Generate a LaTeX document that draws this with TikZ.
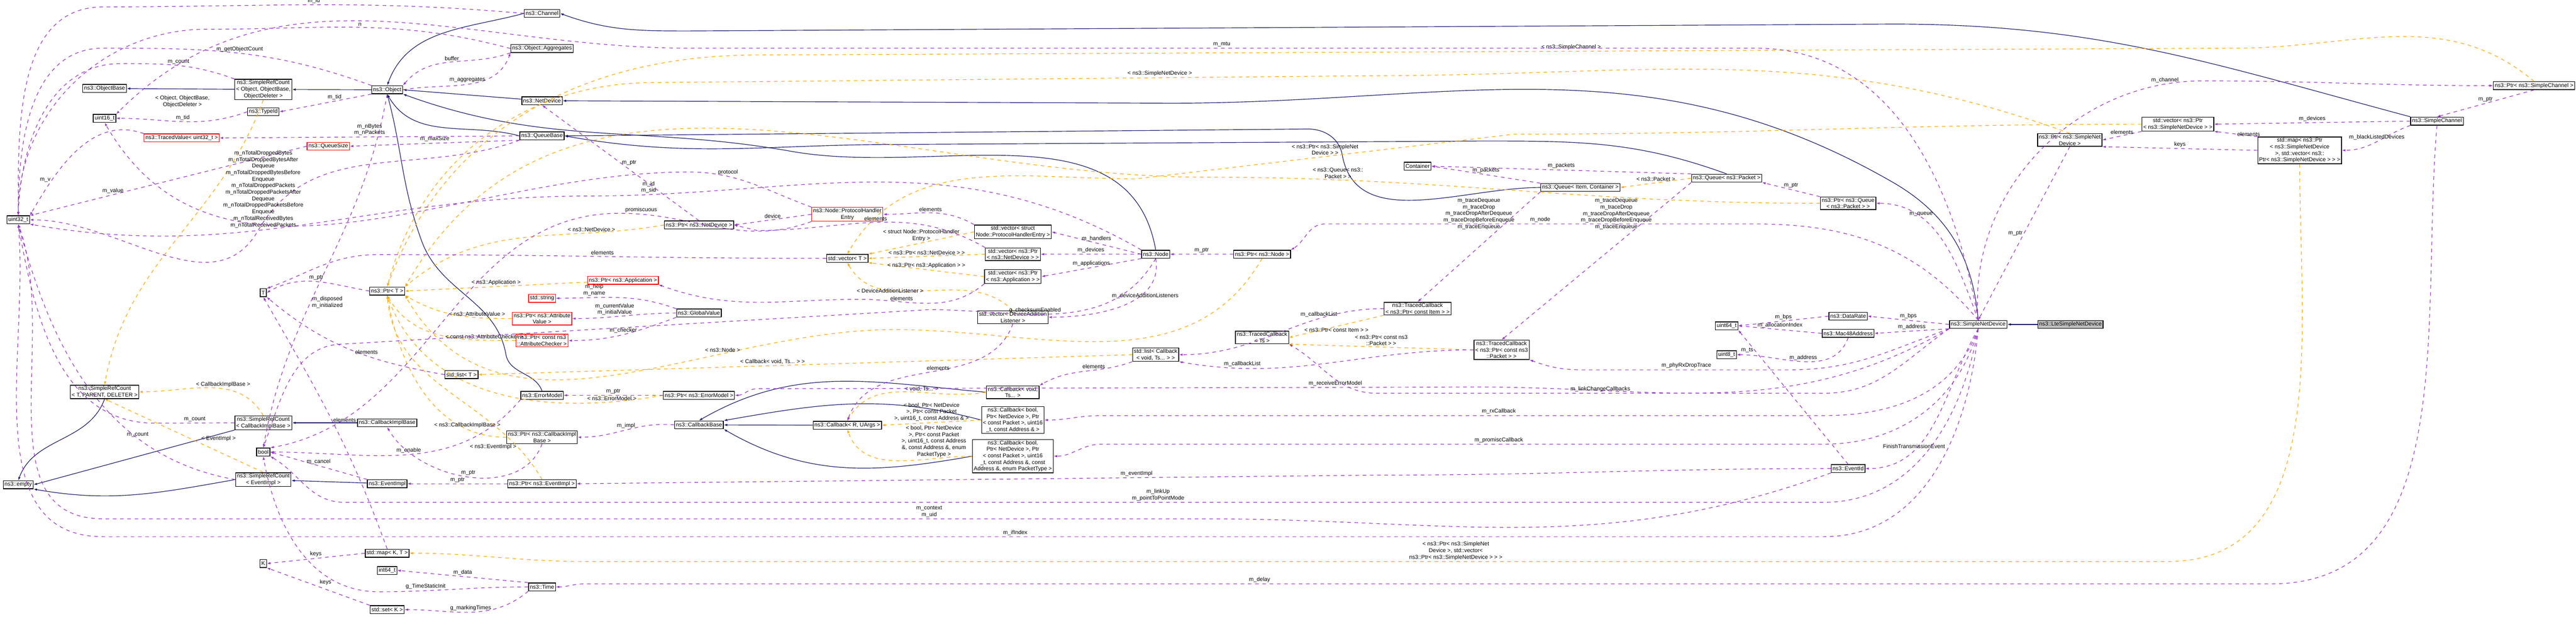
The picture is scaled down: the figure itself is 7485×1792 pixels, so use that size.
\documentclass[tikz,border=0pt]{standalone}
\usepackage{fontspec}
\setmainfont{Liberation Sans}
\usetikzlibrary{arrows.meta}
\definecolor{inhc}{HTML}{191970}
\definecolor{memc}{HTML}{9A32CD}
\definecolor{tplc}{HTML}{FFA500}
\tikzset{
 box/.style={draw=black,line width=0.6pt,fill=white,font=\fontsize{4.6}{5.4}\selectfont,inner xsep=0.04cm,inner ysep=0.03cm,minimum height=0.23cm,align=center},
 redbox/.style={box,draw=red},
 graybox/.style={box,fill=black!25},
 lbl/.style={font=\fontsize{4.6}{5.4}\selectfont,inner sep=1pt,align=center,fill=none},
 inh/.style={draw=inhc,line width=0.5pt,-{Latex[length=0.1cm,width=0.07cm]}},
 mem/.style={draw=memc,line width=0.5pt,dashed,-{Latex[length=0.1cm,width=0.07cm]}},
 tpl/.style={draw=tplc,line width=0.5pt,dashed,-{Latex[length=0.1cm,width=0.07cm]}},
}
\begin{document}
\begin{tikzpicture}[x=0.01cm,y=-0.01cm]
\useasboundingbox (0,0) rectangle (7485,1792);
% nodes
\node[box] (chan) at (1575,39) {ns3::Channel};
\node[box] (aggr) at (1575,141) {ns3::Object::Aggregates};
\node[box] (objb) at (304,257) {ns3::ObjectBase};
\node[box] (srco) at (765,260) {ns3::SimpleRefCount\\< Object, ObjectBase,\\ ObjectDeleter >};
\node[box] (obj) at (1125,261) {ns3::Object};
\node[box] (tid) at (765,325) {ns3::TypeId};
\node[box] (u16) at (304,344) {uint16\_t};
\node[box] (ndev) at (1575,293) {ns3::NetDevice};
\node[box] (qb) at (1575,395) {ns3::QueueBase};
\node[redbox] (tv) at (528,401) {ns3::TracedValue< uint32\_t >};
\node[redbox] (qs) at (954,425) {ns3::QueueSize};
\node[box] (u32) at (53,639) {uint32\_t};
\node[box] (T) at (765,851) {T};
\node[box] (ptrT) at (1125,846) {ns3::Ptr< T >};
\node[redbox] (ptrapp) at (1810,815) {ns3::Ptr< ns3::Application >};
\node[redbox] (str) at (1575,867) {std::string};
\node[redbox] (ptrav) at (1575,926) {ns3::Ptr< ns3::Attribute\\Value >};
\node[redbox] (ptrac) at (1575,990) {ns3::Ptr< const ns3\\::AttributeChecker >};
\node[box] (lstT) at (1341,1089) {std::list< T >};
\node[box] (em) at (1575,1149) {ns3::ErrorModel};
\node[box] (srcg) at (304,1139) {ns3::SimpleRefCount\\< T, PARENT, DELETER >};
\node[box] (srccb) at (765,1229) {ns3::SimpleRefCount\\< CallbackImplBase >};
\node[box] (cib) at (1125,1229) {ns3::CallbackImplBase};
\node[box] (ptrcib) at (1575,1271) {ns3::Ptr< ns3::CallbackImpl\\Base >};
\node[box] (bool) at (765,1314) {bool};
\node[box] (empty) at (53,1409) {ns3::empty};
\node[box] (srcev) at (765,1394) {ns3::SimpleRefCount\\< EventImpl >};
\node[box] (evi) at (1125,1406) {ns3::EventImpl};
\node[box] (ptrev) at (1575,1406) {ns3::Ptr< ns3::EventImpl >};
\node[box] (mapKT) at (1125,1608) {std::map< K, T >};
\node[box] (K) at (765,1638) {K};
\node[box] (i64) at (1125,1658) {int64\_t};
\node[box] (time) at (1575,1706) {ns3::Time};
\node[box] (setK) at (1125,1772) {std::set< K >};
\node[redbox] (phe) at (2462,623) {ns3::Node::ProtocolHandler\\Entry};
\node[box] (ptrnd) at (2031,654) {ns3::Ptr< ns3::NetDevice >};
\node[box] (vphe) at (2943,674) {std::vector< struct\\ Node::ProtocolHandlerEntry >};
\node[box] (vecT) at (2462,751) {std::vector< T >};
\node[box] (vnd) at (2943,739) {std::vector< ns3::Ptr\\< ns3::NetDevice > >};
\node[box] (vapp) at (2943,804) {std::vector< ns3::Ptr\\< ns3::Application > >};
\node[box] (node) at (3358,739) {ns3::Node};
\node[box] (ptrnode) at (3667,739) {ns3::Ptr< ns3::Node >};
\node[box] (gv) at (2031,910) {ns3::GlobalValue};
\node[box] (vdal) at (2943,922) {std::vector< DeviceAddition\\Listener >};
\node[box] (lcb) at (3358,1031) {std::list< Callback\\< void, Ts... > >};
\node[box] (ptrem) at (2031,1149) {ns3::Ptr< ns3::ErrorModel >};
\node[box] (cbb) at (2031,1235) {ns3::CallbackBase};
\node[box] (cbr) at (2462,1236) {ns3::Callback< R, UArgs >};
\node[box] (cbv) at (2943,1140) {ns3::Callback< void,\\ Ts... >};
\node[box] (cb4) at (2943,1221) {ns3::Callback< bool,\\ Ptr< NetDevice >, Ptr\\< const Packet >, uint16\\\_t, const Address \& >};
\node[box] (cb6) at (2943,1326) {ns3::Callback< bool,\\ Ptr< NetDevice >, Ptr\\< const Packet >, uint16\\\_t, const Address \&, const\\ Address \&, enum PacketType >};
\node[box] (cont) at (4119,483) {Container};
\node[box] (qic) at (4592,545) {ns3::Queue< Item, Container >};
\node[box] (qp) at (5017,518) {ns3::Queue< ns3::Packet >};
\node[box] (ptrq) at (5370,591) {ns3::Ptr< ns3::Queue\\< ns3::Packet > >};
\node[box] (tci) at (4119,897) {ns3::TracedCallback\\< ns3::Ptr< const Item > >};
\node[box] (tcts) at (3667,981) {ns3::TracedCallback\\< Ts >};
\node[box] (tcp) at (4363,1017) {ns3::TracedCallback\\< ns3::Ptr< const ns3\\::Packet > >};
\node[box] (u64) at (5017,947) {uint64\_t};
\node[box] (dr) at (5370,919) {ns3::DataRate};
\node[box] (mac) at (5370,969) {ns3::Mac48Address};
\node[box] (u8) at (5017,1031) {uint8\_t};
\node[box] (evid) at (5370,1362) {ns3::EventId};
\node[box] (ptrsc) at (7363,249) {ns3::Ptr< ns3::SimpleChannel >};
\node[box] (sc) at (7081,352) {ns3::SimpleChannel};
\node[box] (vsnd) at (6328,361) {std::vector< ns3::Ptr\\< ns3::SimpleNetDevice > >};
\node[box] (ptrsnd) at (6014,407) {ns3::Ptr< ns3::SimpleNet\\Device >};
\node[box] (mapsnd) at (6682,437) {std::map< ns3::Ptr\\< ns3::SimpleNetDevice\\ >, std::vector< ns3::\\Ptr< ns3::SimpleNetDevice > > >};
\node[box] (snd) at (5748,943) {ns3::SimpleNetDevice};
\node[graybox] (lte) at (6016,943) {ns3::LteSimpleNetDevice};

% inheritance
\draw[inh] (srco) -- (objb);
\draw[inh] (obj) -- (srco);
\draw[inh] (chan.west) to[out=195,in=70] (obj.north);
\draw[inh] (ndev) -- (obj.east);
\draw[inh] (qb.west) to[out=165,in=-60] (obj.south);
\draw[inh] (node.north) to[out=100,in=-10] (2300,440) to[out=170,in=-20] (obj.south east);
\draw[inh] (em.north) to[out=110,in=-80] (1470,1030) to[out=100,in=-70] (1225,700) to[out=110,in=-75] (obj.south);
\draw[inh] (sc.north west) to[out=165,in=0] (5500,70) -- (2000,90) to[out=180,in=-20] (chan.east);
\draw[inh] (snd.north) to[out=95,in=-30] (5500,530) to[out=150,in=0] (3400,300) -- (ndev.east);
\draw[inh] (qic.west) to[out=180,in=-80] (3900,450) to[out=100,in=0] (3800,375) -- (qb.east);
\draw[inh] (qp.north) to[out=160,in=0] (4300,410) -- (2600,420) to[out=180,in=-10] (qb.east);
\draw[inh] (srcg.south) to[out=-110,in=70] (empty.north);
\draw[inh] (srccb.south west) -- (empty.east);
\draw[inh] (srcev.west) to[out=190,in=-10] (empty.south east);
\draw[inh] (cib) -- (srccb);
\draw[inh] (evi) -- (srcev);
\draw[inh] (cbv.west) to[out=175,in=30] (cbb.north);
\draw[inh] (cb4.west) to[out=165,in=10] (cbb.north east);
\draw[inh] (cb6.west) to[out=190,in=-30] (cbb.south east);
\draw[inh] (cbr) -- (cbb);
\draw[inh] (lte) -- (snd);

% templates
\draw[tpl] (srco.south) to[out=-110,in=80] (srcg.north);
\node[lbl] (srcolbl) at (530,295) {< Object, ObjectBase,\\ObjectDeleter >};
\draw[tpl] (srccb.north) to[out=120,in=0] node[lbl,pos=0.4,above] {< CallbackImplBase >} (srcg.east);
\draw[tpl] (srcev.north) -- node[lbl,pos=0.4,above right] {< EventImpl >} (srcg.south);
\draw[tpl] (ptrapp) -- node[lbl,pos=0.5,above] {< ns3::Application >} (ptrT.east);
\draw[tpl] (ptrav.west) to[out=180,in=-30] node[lbl,pos=0.3,above] {< ns3::AttributeValue >} (ptrT.south east);
\draw[tpl] (ptrac.west) to[out=180,in=-60] node[lbl,pos=0.2,above] {< const ns3::AttributeChecker >} (ptrT.south);
\draw[tpl] (ptrnd.west) to[out=190,in=40] node[lbl,pos=0.25,above] {< ns3::NetDevice >} (ptrT.north east);
\draw[tpl] (ptrem.west) to[out=190,in=-70] node[lbl,pos=0.15,above] {< ns3::ErrorModel >} (ptrT.south);
\draw[tpl] (ptrcib.west) to[out=180,in=-80] node[lbl,pos=0.2,above] {< ns3::CallbackImplBase >} (ptrT.south);
\draw[tpl] (ptrev.north) to[out=120,in=-85] node[lbl,pos=0.15,left] {< ns3::EventImpl >} (ptrT.south);
\draw[tpl] (ptrnode.south) to[out=-120,in=0] (2600,958) to[out=180,in=-60] node[lbl,pos=0.3,above] {< ns3::Node >} (ptrT.south east);
\draw[tpl] (ptrsc.north) to[out=140,in=0] (6500,140) -- node[lbl,pos=0.45,above] {< ns3::SimpleChannel >} (2200,160) to[out=180,in=70] (ptrT.north);
\draw[tpl] (ptrsnd.north) to[out=160,in=0] (4000,220) -- node[lbl,pos=0.3,above] {< ns3::SimpleNetDevice >} (1900,240) to[out=180,in=75] (ptrT.north);
\draw[tpl] (ptrq.west) to[out=180,in=0] node[lbl,pos=0.8,above] {< ns3::Queue< ns3::\\Packet > >} (3500,515) to[out=180,in=60] (ptrT.north east);
\draw[tpl] (lcb.west) -- node[lbl,pos=0.55,above] {< Callback< void, Ts... > >} (lstT.east);
\draw[tpl] (vphe.west) -- node[lbl,pos=0.5,above] {< struct Node::ProtocolHandler\\Entry >} (vecT.north east);
\draw[tpl] (vnd.west) -- node[lbl,pos=0.5,above] {< ns3::Ptr< ns3::NetDevice > >} (vecT.east);
\draw[tpl] (vapp.west) -- node[lbl,pos=0.5,above] {< ns3::Ptr< ns3::Application > >} (vecT.south east);
\draw[tpl] (vdal.north) to[out=135,in=-60] node[lbl,pos=0.5,left] {< DeviceAdditionListener >} (vecT.south);
\draw[tpl] (vsnd.west) to[out=180,in=0] (4400,390) -- node[lbl,pos=0.5,above] {< ns3::Ptr< ns3::SimpleNet\\Device > >} (3300,520) to[out=180,in=60] (vecT.north);
\draw[tpl] (mapsnd.south) to[out=-90,in=0] (6300,1632) -- node[lbl,pos=0.45,above] {< ns3::Ptr< ns3::SimpleNet\\Device >, std::vector<\\ ns3::Ptr< ns3::SimpleNetDevice > > >} (1700,1632) to[out=180,in=0] (mapKT.east);
\draw[tpl] (cbv.west) to[out=190,in=60] node[lbl,pos=0.4,above] {< void, Ts... >} (cbr.north);
\draw[tpl] (cb4.west) -- node[lbl,pos=0.5,above] {< bool, Ptr< NetDevice\\ >, Ptr< const Packet\\ >, uint16\_t, const Address \& >} (cbr.east);
\draw[tpl] (cb6.west) to[out=180,in=-70] node[lbl,pos=0.25,above] {< bool, Ptr< NetDevice\\ >, Ptr< const Packet\\ >, uint16\_t, const Address\\ \&, const Address \&, enum\\ PacketType >} (cbr.south);
\draw[tpl] (qp.west) -- node[lbl,pos=0.5,above] {< ns3::Packet >} (qic.east);
\draw[tpl] (tci.south west) -- node[lbl,pos=0.5,below] {< ns3::Ptr< const Item > >} (tcts.east);
\draw[tpl] (tcp.west) -- node[lbl,pos=0.5,above] {< ns3::Ptr< const ns3\\::Packet > >} (tcts.south east);

% members
\draw[mem] (chan.west) to[out=175,in=0] node[lbl,pos=0.5,above] {m\_id} (300,20) to[out=180,in=90] (u32.north);
\draw[mem] (aggr.west) to[out=165,in=0] node[lbl,pos=0.5,above] {n} (600,85) to[out=180,in=90] (u32.north);
\draw[mem] (obj.north west) to[out=160,in=0] node[lbl,pos=0.5,above] {m\_getObjectCount} (300,140) to[out=180,in=90] (u32.north);
\draw[mem] (srco.north west) to[out=160,in=0] node[lbl,pos=0.5,above] {m\_count} (350,185) to[out=180,in=88] (u32.north);
\draw[mem] (obj.south west) -- node[lbl,pos=0.4,above] {m\_tid} (tid.east);
\draw[mem] (obj.east) to[out=10,in=-110] node[lbl,pos=0.5,above] {m\_aggregates} (aggr.south west);
\draw[mem] (aggr.south west) to[out=200,in=50] node[lbl,pos=0.5,above] {buffer} (obj.north east);
\draw[mem] (tid.west) to[out=200,in=0] node[lbl,pos=0.5,above] {m\_tid} (u16.east);
\draw[mem] (tv.north west) to[out=160,in=60] node[lbl,pos=0.75,left] {m\_v} (u32.north east);
\draw[mem] (qb.west) -- node[lbl,pos=0.5,above] {m\_nBytes\\m\_nPackets} (tv.east);
\draw[mem] (qb.south west) -- node[lbl,pos=0.5,above] {m\_maxSize} (qs.east);
\draw[mem] (qs.west) -- node[lbl,pos=0.7,above] {m\_value} (u32.north east);
\draw[mem] (qb.south west) to[out=200,in=60] (750,670) to[out=240,in=0] (u32.east);
\node[lbl] (qblbl) at (765,550) {m\_nTotalDroppedBytes\\m\_nTotalDroppedBytesAfter\\Dequeue\\m\_nTotalDroppedBytesBefore\\Enqueue\\m\_nTotalDroppedPackets\\m\_nTotalDroppedPacketsAfter\\Dequeue\\m\_nTotalDroppedPacketsBefore\\Enqueue\\m\_nTotalReceivedBytes\\m\_nTotalReceivedPackets};
\draw[mem] (node.north west) to[out=150,in=0] node[lbl,pos=0.9,above] {m\_id\\m\_sid} (1700,570) to[out=180,in=-10] (u32.south east);
\draw[mem] (ptrT.west) to[out=170,in=30] node[lbl,pos=0.5,above] {m\_ptr} (T.east);
\draw[mem] (obj.south) to[out=-100,in=80] node[lbl,pos=0.6,right] {m\_disposed\\m\_initialized} (bool.north);
\draw[mem] (phe.west) -- node[lbl,pos=0.5,above] {device} (ptrnd.east);
\draw[mem] (phe.north west) to[out=160,in=0] node[lbl,pos=0.7,above] {protocol} (2000,500) to[out=180,in=-60] (u16.south);
\draw[mem] (phe.south west) to[out=200,in=0] node[lbl,pos=0.9,above] {promiscuous} (1800,620) to[out=180,in=10] (bool.north east);
\draw[mem] (vnd.north west) to[out=150,in=0] node[lbl,pos=0.5,above] {elements} (2200,670) -- (ptrnd.east);
\draw[mem] (ptrnd.north) -- node[lbl,pos=0.5,right] {m\_ptr} (ndev.south);
\draw[mem] (vphe.north west) to[out=150,in=0] node[lbl,pos=0.5,above] {elements} (phe.east);
\draw[mem] (node.west) -- node[lbl,pos=0.5,above] {m\_handlers} (vphe.east);
\draw[mem] (node.west) -- node[lbl,pos=0.5,above] {m\_devices} (vnd.east);
\draw[mem] (node.south west) -- node[lbl,pos=0.5,above] {m\_applications} (vapp.east);
\draw[mem] (vapp.south west) to[out=220,in=0] node[lbl,pos=0.7,above] {elements} (2500,870) to[out=180,in=-20] (ptrapp.south east);
\draw[mem] (node.south) to[out=-120,in=0] node[lbl,pos=0.6,above] {g\_checksumEnabled} (2700,900) -- (1000,1000) to[out=180,in=70] (bool.north);
\draw[mem] (node.south) to[out=-80,in=0] node[lbl,pos=0.3,below] {m\_deviceAdditionListeners} (vdal.east);
\draw[mem] (ptrnode.west) -- node[lbl,pos=0.5,above] {m\_ptr} (node.east);
\draw[mem] (gv.north west) to[out=160,in=0] node[lbl,pos=0.7,above] {m\_help\\m\_name} (str.east);
\draw[mem] (gv.west) to[out=180,in=0] node[lbl,pos=0.6,above] {m\_currentValue\\m\_initialValue} (ptrav.east);
\draw[mem] (gv.south west) to[out=200,in=0] node[lbl,pos=0.5,above] {m\_checker} (ptrac.east);
\draw[mem] (lstT.west) to[out=170,in=-40] node[lbl,pos=0.4,above] {elements} (T.south east);
\draw[mem] (mapKT.north) to[out=110,in=-60] node[lbl,pos=0.5,right] {elements} (T.south);
\draw[mem] (vecT.west) to[out=180,in=0] node[lbl,pos=0.5,above] {elements} (1100,740) to[out=180,in=20] (T.north east);
\draw[mem] (lcb.south west) to[out=200,in=30] node[lbl,pos=0.4,above] {elements} (cbv.north east);
\draw[mem] (vdal.south) to[out=-110,in=70] node[lbl,pos=0.4,left] {elements} (cbr.north);
\draw[mem] (ptrem.west) -- node[lbl,pos=0.5,above] {m\_ptr} (em.east);
\draw[mem] (em.south west) to[out=230,in=0] node[lbl,pos=0.5,above] {m\_enable} (bool.east);
\draw[mem] (cbb.west) to[out=175,in=0] node[lbl,pos=0.5,above] {m\_impl} (ptrcib.east);
\draw[mem] (ptrcib.south) to[out=-110,in=-60] node[lbl,pos=0.5,above] {m\_ptr} (cib.south);
\draw[mem] (evi.north west) -- node[lbl,pos=0.5,above] {m\_cancel} (bool.east);
\draw[mem] (ptrev.west) -- node[lbl,pos=0.5,above] {m\_ptr} (evi.east);
\draw[mem] (srccb.west) to[out=180,in=0] node[lbl,pos=0.5,above] {m\_count} (450,1230) to[out=180,in=-80] (u32.south);
\draw[mem] (srcev.west) to[out=170,in=-75] node[lbl,pos=0.3,above] {m\_count} (u32.south);
\draw[mem] (mapKT.west) -- node[lbl,pos=0.5,above] {keys} (K.east);
\draw[mem] (setK.north west) -- node[lbl,pos=0.5,above right] {keys} (K.south east);
\draw[mem] (time.north west) -- node[lbl,pos=0.5,above] {m\_data} (i64.east);
\draw[mem] (time.west) to[out=180,in=0] node[lbl,pos=0.7,above] {g\_TimeStaticInit} (1100,1720) to[out=180,in=-80] (bool.south);
\draw[mem] (time.south west) to[out=220,in=0] node[lbl,pos=0.5,above] {g\_markingTimes} (setK.east);
\draw[mem] (qic.north west) -- node[lbl,pos=0.5,above] {m\_packets} (cont.east);
\draw[mem] (qp.north west) -- node[lbl,pos=0.5,above] {m\_packets} (cont.east);
\draw[mem] (qic.south west) -- node[lbl,pos=0.2,left] {m\_traceDequeue\\m\_traceDrop\\m\_traceDropAfterDequeue\\m\_traceDropBeforeEnqueue\\m\_traceEnqueue} (tci.north);
\draw[mem] (qp.south west) -- node[lbl,pos=0.2,left] {m\_traceDequeue\\m\_traceDrop\\m\_traceDropAfterDequeue\\m\_traceDropBeforeEnqueue\\m\_traceEnqueue} (tcp.north);
\draw[mem] (tci.west) to[out=180,in=0] node[lbl,pos=0.3,above] {m\_callbackList} (lcb.east);
\draw[mem] (tcp.west) to[out=180,in=-10] node[lbl,pos=0.8,above] {m\_callbackList} (lcb.south east);
\draw[mem] (ptrq.north west) -- node[lbl,pos=0.5,above] {m\_ptr} (qp.south east);
\draw[mem] (dr.west) -- node[lbl,pos=0.5,above] {m\_bps} (u64.east);
\draw[mem] (mac.west) -- node[lbl,pos=0.5,above] {m\_allocationIndex} (u64.east);
\draw[mem] (mac.south) to[out=-110,in=0] node[lbl,pos=0.5,above] {m\_address} (u8.east);
\draw[mem] (evid.north) -- node[lbl,pos=0.85,left] {m\_ts} (u64.south east);
% simple net device members
\draw[mem] (snd.north) to[out=100,in=0] (5100,140) -- node[lbl,pos=0.5,above] {m\_mtu} (2000,140) to[out=180,in=45] (u16.north east);
\draw[mem] (snd.north) to[out=95,in=180] node[lbl,pos=0.9,above] {m\_channel} (6400,235) to[out=0,in=180] (ptrsc.west);
\draw[mem] (snd.north) to[out=110,in=0] node[lbl,pos=0.7,above] {m\_queue} (ptrq.east);
\draw[mem] (snd.west) -- node[lbl,pos=0.5,above] {m\_bps} (dr.east);
\draw[mem] (snd.south west) -- node[lbl,pos=0.5,above] {m\_address} (mac.east);
\draw[mem] (snd.south) to[out=-120,in=0] node[lbl,pos=0.7,above] {FinishTransmissionEvent} (evid.east);
\draw[mem] (snd.north) to[out=130,in=0] (5100,651) -- node[lbl,pos=0.5,above] {m\_node} (3850,651) to[out=180,in=30] (ptrnode.north east);
\draw[mem] (snd.south west) to[out=200,in=0] (5200,1075) -- node[lbl,pos=0.5,above] {m\_phyRxDropTrace} (4600,1075) to[out=180,in=-20] (tcp.south east);
\draw[mem] (snd.south west) to[out=210,in=0] (4300,1125) -- node[lbl,pos=0.2,above] {m\_receiveErrorModel} (2200,1130) to[out=180,in=0] (ptrem.east);
\draw[mem] (snd.south west) to[out=215,in=0] (5300,1143) -- node[lbl,pos=0.5,above] {m\_linkChangeCallbacks} (4000,1143) to[out=180,in=-30] (tcts.south east);
\draw[mem] (snd.south) to[out=-110,in=0] (5300,1208) -- node[lbl,pos=0.45,above] {m\_rxCallback} (3200,1208) to[out=180,in=0] (cb4.east);
\draw[mem] (snd.south) to[out=-105,in=0] (5300,1291) -- node[lbl,pos=0.45,above] {m\_promiscCallback} (3200,1291) to[out=180,in=0] (cb6.east);
\draw[mem] (evid.west) to[out=180,in=0] (4000,1381) -- node[lbl,pos=0.3,above] {m\_eventImpl} (ptrev.east);
\draw[mem] (snd.south) to[out=-100,in=0] (5300,1460) -- node[lbl,pos=0.45,above] {m\_linkUp\\m\_pointToPointMode} (1000,1460) to[out=180,in=-30] (bool.south east);
\draw[mem] (evid.south west) to[out=200,in=0] (3500,1508) -- node[lbl,pos=0.25,above] {m\_context\\m\_uid} (300,1508) to[out=180,in=-70] (u32.south);
\draw[mem] (snd.south) to[out=-95,in=0] (5300,1560) -- node[lbl,pos=0.47,above] {m\_ifIndex} (300,1560) to[out=180,in=-85] (u32.south);
\draw[mem] (sc.south) to[out=-95,in=0] (6600,1697) -- node[lbl,pos=0.6,above] {m\_delay} (1700,1697) to[out=180,in=0] (time.east);
% simple channel
\draw[mem] (sc.west) -- node[lbl,pos=0.5,above] {m\_devices} (vsnd.east);
\draw[mem] (sc.south west) to[out=200,in=0] node[lbl,pos=0.5,above] {m\_blackListedDevices} (mapsnd.east);
\draw[mem] (ptrsc.south) -- node[lbl,pos=0.5,above] {m\_ptr} (sc.north);
\draw[mem] (vsnd.south west) -- node[lbl,pos=0.5,above] {elements} (ptrsnd.east);
\draw[mem] (mapsnd.west) -- node[lbl,pos=0.5,above] {keys} (ptrsnd.south east);
\draw[mem] (mapsnd.north west) -- node[lbl,pos=0.5,right] {elements} (vsnd.south east);
\draw[mem] (ptrsnd.south) -- node[lbl,pos=0.5,left] {m\_ptr} (snd.north);
\end{tikzpicture}
\end{document}
